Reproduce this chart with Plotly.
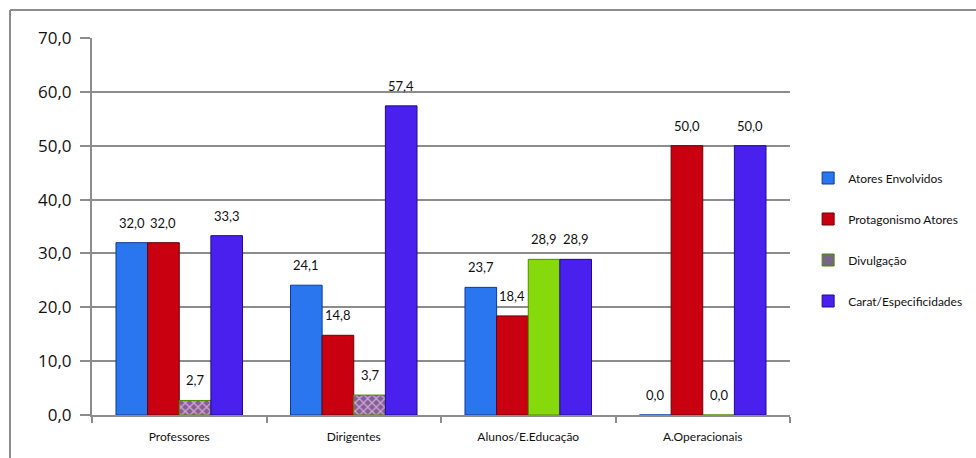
import plotly.graph_objects as go

categories = ["Professores", "Dirigentes", "Alunos/E.Educação", "A.Operacionais"]
series_names = ["Atores Envolvidos", "Protagonismo Atores", "Divulgação", "Carat/Especificidades"]
atores_envolvidos = [32.0, 24.1, 23.7, 0.0]
protagonismo_atores = [32.0, 14.8, 18.4, 50.0]
divulgacao = [2.7, 3.7, 28.9, 0.0]
carat_especificidades = [33.3, 57.4, 28.9, 50.0]
y_ticks = [0, 10, 20, 30, 40, 50, 60, 70]

series_values = [atores_envolvidos, protagonismo_atores, divulgacao, carat_especificidades]
colors = ["#2a76ee", "#c8000f", "#86d90a", "#4a20ee"]
edges = ["#0b3a9a", "#6a0008", "#4f8a00", "#1e0a90"]

# plot geometry (pixels)
W, H = 976, 458
ML, MR, MT, MB = 92, 186, 38, 43
BARGAP = 0.275
n_series = len(series_names)
cat_px = (W - ML - MR) / len(categories)
bar_px = cat_px * (1 - BARGAP) / n_series


def fmt(v):
    return f"{v:.1f}".replace(".", ",")


fig = go.Figure()
for i, (name, vals, col, edge) in enumerate(zip(series_names, series_values, colors, edges)):
    marker = dict(color=col, line=dict(color=edge, width=1))
    if name == "Divulgação":
        # the two small bars are drawn with a cross-hatched fill
        marker["color"] = ["#8a5a9a", "#8a5a9a", col, col]
        marker["pattern"] = dict(shape=["x", "x", "", ""], fgcolor="#1f9a2a",
                                 size=6, solidity=0.4)
    fig.add_trace(go.Bar(
        x=categories, y=vals, name=name, legendgroup=name,
        marker=marker,
    ))
    # value labels above each bar
    xshift = (i - (n_series - 1) / 2) * bar_px
    for c, v in zip(categories, vals):
        fig.add_annotation(x=c, y=v, xref="x", yref="y", text=fmt(v),
                           showarrow=False, xshift=xshift, yshift=20,
                           font=dict(family="Lato", size=13, color="#111111"))

fig.update_layout(
    width=W, height=H,
    margin=dict(l=ML, r=MR, t=MT, b=MB),
    paper_bgcolor="white", plot_bgcolor="white",
    barmode="group", bargap=BARGAP, bargroupgap=0,
    font=dict(family="Lato", color="#111111"),
    showlegend=True,
    legend=dict(xref="container", yref="container", x=0.828, y=0.643,
                xanchor="left", yanchor="top",
                font=dict(family="Lato", size=12, color="#111111"),
                tracegroupgap=22, itemwidth=30, bgcolor="rgba(0,0,0,0)"),
)
fig.update_yaxes(
    range=[0, 70], tickvals=y_ticks,
    ticktext=[fmt(v) for v in y_ticks],
    tickfont=dict(family="Open Sans", size=17, color="#111111"),
    showgrid=True, gridcolor="#8c8c8c", gridwidth=2,
    showline=True, linecolor="#8c8c8c", linewidth=2,
    ticks="outside", ticklen=10, tickcolor="#8c8c8c", tickwidth=2,
    ticklabelstandoff=5,
    zeroline=False,
)
fig.update_xaxes(
    tickfont=dict(family="Lato", size=12, color="#111111"),
    showline=True, linecolor="#8c8c8c", linewidth=2,
    ticks="outside", tickson="boundaries", ticklen=6, tickcolor="#8c8c8c", tickwidth=2,
    ticklabelstandoff=10,
    showgrid=False,
)

# frame lines along the top and left edges of the chart area
fig.add_shape(type="line", xref="paper", yref="paper", xsizemode="pixel", ysizemode="pixel",
              xanchor=0, yanchor=1, x0=10 - ML, x1=W, y0=MT - 10, y1=MT - 10,
              line=dict(color="#8c8c8c", width=2))
fig.add_shape(type="line", xref="paper", yref="paper", xsizemode="pixel", ysizemode="pixel",
              xanchor=0, yanchor=1, x0=10 - ML, x1=10 - ML, y0=MT - 10, y1=-H,
              line=dict(color="#8c8c8c", width=2))

fig.write_html("out.html")
